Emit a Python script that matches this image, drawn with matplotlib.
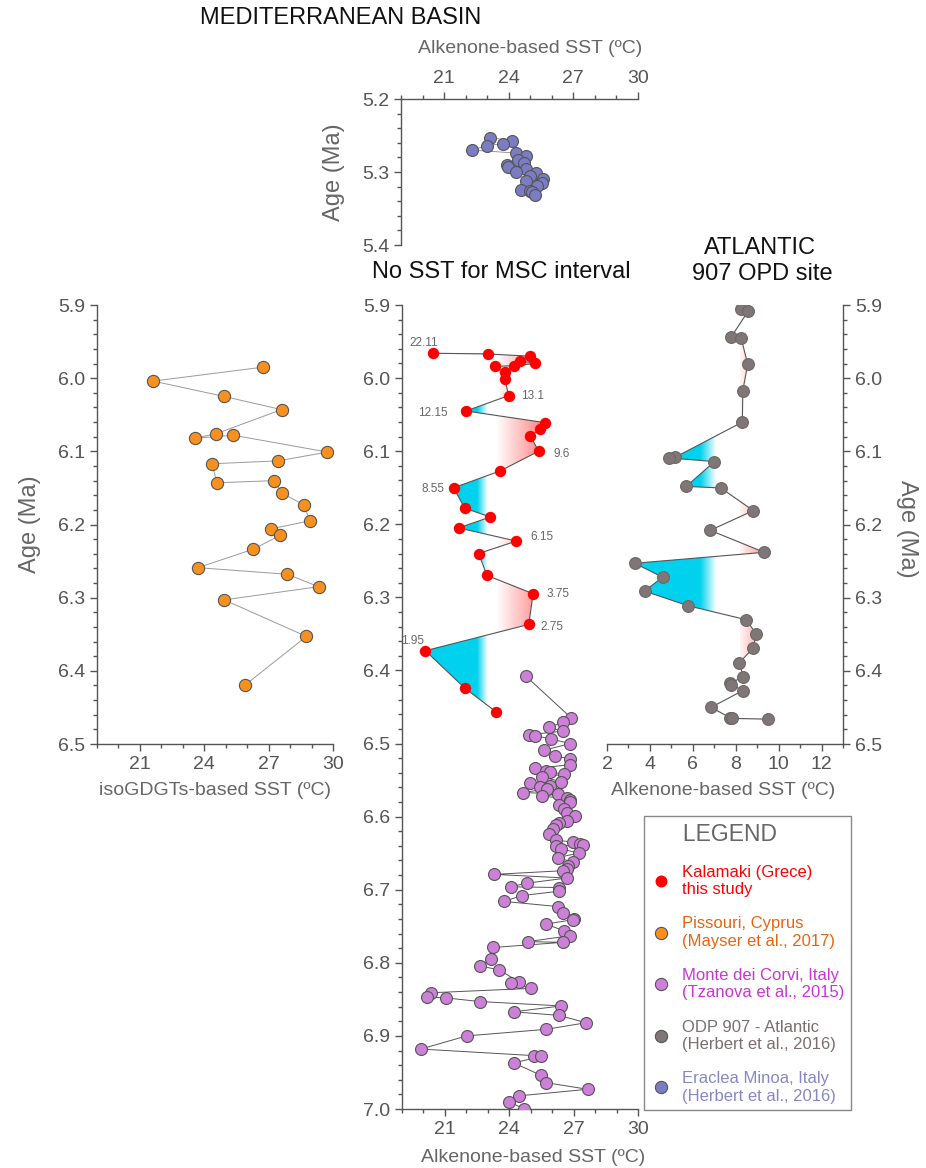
import numpy as np
import matplotlib
matplotlib.use("Agg")
import matplotlib.pyplot as plt
import matplotlib.colors as mcolors
from matplotlib.path import Path
from matplotlib.lines import Line2D
from matplotlib.ticker import MultipleLocator, FormatStrFormatter

plt.rcParams['font.family'] = ['Liberation Sans', 'DejaVu Sans']

# Kalamaki (Greece), this study
kal_age = [5.966, 5.967, 5.970, 5.976, 5.980, 5.983, 5.984, 5.992, 6.001, 6.024,
           6.045, 6.061, 6.070, 6.079, 6.100, 6.127, 6.150, 6.178, 6.190, 6.205,
           6.223, 6.240, 6.270, 6.295, 6.337, 6.373, 6.424, 6.457]
kal_sst = [20.43, 23.01, 24.95, 24.49, 25.22, 24.21, 23.35, 23.79, 23.79, 23.97,
           21.98, 25.68, 25.45, 24.98, 25.37, 23.58, 21.41, 21.92, 23.12, 21.64,
           24.33, 22.57, 22.96, 25.11, 24.91, 20.09, 21.92, 23.40]
# point index -> printed value
kal_notes = {0: '22.11', 9: '13.1', 10: '12.15', 14: '9.6', 16: '8.55',
             20: '6.15', 23: '3.75', 24: '2.75', 25: '1.95'}

# Pissouri, Cyprus (isoGDGTs)
pis_age = [5.985, 6.004, 6.025, 6.043, 6.076, 6.082, 6.078, 6.101, 6.113, 6.117,
           6.143, 6.140, 6.157, 6.173, 6.195, 6.206, 6.215, 6.234, 6.259, 6.268,
           6.285, 6.303, 6.353, 6.419]
pis_sst = [26.72, 21.62, 24.93, 27.60, 24.54, 23.58, 25.36, 29.74, 27.45, 24.36,
           24.59, 27.26, 27.60, 28.64, 28.92, 27.09, 27.53, 26.26, 23.71, 27.87,
           29.33, 24.93, 28.76, 25.92]

# Monte dei Corvi, Italy
mdc_age = [6.408, 6.465, 6.471, 6.478, 6.483, 6.488, 6.489, 6.494, 6.500, 6.509,
           6.517, 6.521, 6.529, 6.534, 6.537, 6.539, 6.542, 6.546, 6.552, 6.554,
           6.558, 6.559, 6.562, 6.567, 6.569, 6.572, 6.575, 6.577, 6.580, 6.584,
           6.590, 6.595, 6.599, 6.606, 6.609, 6.612, 6.617, 6.624, 6.632, 6.635,
           6.638, 6.639, 6.640, 6.644, 6.650, 6.656, 6.662, 6.668, 6.672, 6.674,
           6.679, 6.684, 6.691, 6.696, 6.697, 6.702, 6.708, 6.716, 6.723, 6.732,
           6.740, 6.741, 6.747, 6.756, 6.763, 6.771, 6.772, 6.779, 6.795, 6.804,
           6.810, 6.826, 6.827, 6.835, 6.841, 6.847, 6.848, 6.853, 6.859, 6.867,
           6.872, 6.882, 6.891, 6.900, 6.918, 6.927, 6.928, 6.937, 6.954, 6.964,
           6.973, 6.982, 6.990, 7.000]
mdc_sst = [24.78, 26.89, 26.50, 25.84, 26.50, 24.90, 25.19, 25.96, 26.85, 25.64,
           26.15, 26.82, 26.82, 25.21, 25.73, 25.92, 26.57, 25.52, 26.42, 24.97,
           25.91, 25.41, 25.75, 24.66, 26.25, 25.52, 26.69, 26.84, 26.81, 26.30,
           26.53, 26.69, 27.07, 26.69, 26.34, 26.19, 26.06, 25.83, 26.19, 26.97,
           27.28, 27.43, 26.19, 26.41, 27.23, 26.25, 26.95, 26.73, 26.69, 26.50,
           23.29, 26.69, 24.82, 24.07, 26.30, 26.34, 24.58, 23.76, 26.25, 26.50,
           27.03, 26.97, 25.72, 26.53, 26.81, 24.86, 26.50, 23.26, 23.13, 22.64,
           23.54, 24.46, 24.07, 25.00, 20.33, 20.17, 21.05, 22.64, 26.42, 24.22,
           26.34, 27.57, 25.72, 22.01, 19.88, 25.17, 25.49, 24.21, 25.49, 25.72,
           27.65, 24.46, 23.99, 24.69]

# ODP 907 - Atlantic
odp_age = [5.906, 5.908, 5.944, 5.945, 5.981, 6.017, 6.060, 6.108, 6.109, 6.114,
           6.148, 6.150, 6.181, 6.208, 6.238, 6.253, 6.272, 6.291, 6.311, 6.330,
           6.349, 6.369, 6.389, 6.408, 6.417, 6.419, 6.427, 6.450, 6.464, 6.465,
           6.466]
odp_sst = [8.25, 8.59, 7.78, 8.25, 8.56, 8.33, 8.31, 5.18, 4.87, 7.01,
           5.69, 7.30, 8.82, 6.81, 9.33, 3.29, 4.59, 3.75, 5.77, 8.47,
           8.95, 8.82, 8.16, 8.36, 7.74, 7.80, 8.33, 6.85, 7.74, 7.81,
           9.49]

# Eraclea Minoa, Italy
era_age = [5.253, 5.257, 5.261, 5.264, 5.270, 5.274, 5.278, 5.283, 5.287, 5.290,
           5.293, 5.296, 5.300, 5.302, 5.305, 5.309, 5.313, 5.315, 5.319, 5.324,
           5.326, 5.328, 5.331]
era_sst = [23.13, 24.15, 23.73, 22.98, 22.28, 24.32, 24.79, 24.43, 24.71, 23.93,
           23.96, 24.82, 24.35, 25.28, 24.97, 25.60, 24.82, 25.56, 25.31, 24.58,
           24.97, 25.10, 25.21]

legend_labels = ['Kalamaki (Grece)\nthis study',
                 'Pissouri, Cyprus\n(Mayser et al., 2017)',
                 'Monte dei Corvi, Italy\n(Tzanova et al., 2015)',
                 'ODP 907 - Atlantic\n(Herbert et al., 2016)',
                 'Eraclea Minoa, Italy\n(Herbert et al., 2016)']

GREY = '#555555'
LABEL = '#666666'
RED, ORANGE, ORCHID, TAUPE, LAVENDER = '#FF0000', '#F7901E', '#CC80D8', '#7F7676', '#7C7CC2'
CYAN, PINK = '#00D2EE', '#FF6B6B'

fig = plt.figure(figsize=(9.26, 11.68), dpi=100)
W, H = 926, 1168


def add_panel(x0, y0, x1, y1):
    return fig.add_axes([x0 / W, 1 - y1 / H, (x1 - x0) / W, (y1 - y0) / H])


def style(ax, xlim, ylim, xmaj, xside='bottom', yside='left'):
    ax.set_facecolor('none')
    ax.set_xlim(*xlim)
    ax.set_ylim(*ylim)
    for name, sp in ax.spines.items():
        sp.set_visible(name in (xside, yside))
        sp.set_color(GREY)
        sp.set_linewidth(1.0)
    ax.xaxis.set_ticks_position(xside)
    ax.yaxis.set_ticks_position(yside)
    ax.xaxis.set_major_locator(MultipleLocator(xmaj))
    ax.xaxis.set_minor_locator(MultipleLocator(1))
    ax.yaxis.set_major_locator(MultipleLocator(0.1))
    ax.yaxis.set_minor_locator(MultipleLocator(0.02))
    ax.yaxis.set_major_formatter(FormatStrFormatter('%.1f'))
    ax.tick_params(which='major', length=5, width=1, color=GREY,
                   labelsize=14, labelcolor=GREY, direction='out')
    ax.tick_params(which='minor', length=3, width=1, color=GREY, direction='out')


def gradient_fill(ax, age, sst, thr, colour, x_solid, x_clear, alpha_max=1.0):
    age = np.asarray(age)
    sst = np.asarray(sst)
    where = sst < thr if x_solid < x_clear else sst > thr
    poly = ax.fill_betweenx(age, sst, thr, where=where, interpolate=True, linewidth=0)
    paths = poly.get_paths()
    poly.remove()
    if not paths:
        return
    x0, x1 = ax.get_xlim()
    y0, y1 = ax.get_ylim()
    xs = np.linspace(x0, x1, 800)
    rgba = np.zeros((2, xs.size, 4))
    rgba[..., :3] = mcolors.to_rgb(colour)
    rgba[..., 3] = alpha_max * np.clip((xs - x_clear) / (x_solid - x_clear), 0, 1)
    im = ax.imshow(rgba, extent=(x0, x1, y0, y1), aspect='auto',
                   interpolation='bilinear', zorder=1)
    im.set_clip_path(Path.make_compound_path(*paths), ax.transData)
    ax.set_xlim(x0, x1)
    ax.set_ylim(y0, y1)


def series(ax, sst, age, face, edge, ms, line, lw):
    ax.plot(sst, age, '-', color=line, lw=lw, zorder=2)
    ax.plot(sst, age, 'o', ls='none', mfc=face, mec=edge, mew=0.8 if edge != 'none' else 0,
            ms=ms, zorder=3)


# ---- top: Eraclea Minoa
ax_top = add_panel(401, 99, 638, 245)
style(ax_top, (19, 30), (5.4, 5.2), 3, xside='top', yside='left')
series(ax_top, era_sst, era_age, LAVENDER, GREY, 8.6, '#888888', 0.6)
ax_top.set_xlabel('Alkenone-based SST (ºC)', fontsize=14, color=LABEL)
ax_top.xaxis.set_label_position('top')
ax_top.xaxis.set_label_coords(0.544, 1.349)
ax_top.set_ylabel('Age (Ma)', fontsize=17, color=LABEL)
ax_top.yaxis.set_label_coords(-0.283, 0.5)

# ---- left: Pissouri
ax_left = add_panel(97, 305, 333, 744)
style(ax_left, (19, 30), (6.5, 5.9), 3)
series(ax_left, pis_sst, pis_age, ORANGE, GREY, 8.8, '#9a9a9a', 0.7)
ax_left.set_xlabel('isoGDGTs-based SST (ºC)', fontsize=14, color=LABEL)
ax_left.xaxis.set_label_coords(0.5, -0.107)
ax_left.set_ylabel('Age (Ma)', fontsize=17, color=LABEL)
ax_left.yaxis.set_label_coords(-0.284, 0.5)

# ---- centre: Kalamaki + Monte dei Corvi
ax_mid = add_panel(402, 305, 638, 1109)
style(ax_mid, (19, 30), (7.0, 5.9), 3)
gradient_fill(ax_mid, kal_age, kal_sst, 23.0, CYAN, 22.5, 23.0)
gradient_fill(ax_mid, kal_age, kal_sst, 23.0, PINK, 25.6, 23.4, alpha_max=0.85)
series(ax_mid, mdc_sst, mdc_age, ORCHID, GREY, 8.6, GREY, 0.7)
series(ax_mid, kal_sst, kal_age, RED, 'none', 8.2, GREY, 0.8)
note_offsets = {0: (3.6, 7.2, 'right'), 9: (8.6, 0, 'left'), 10: (-13, -1.4, 'right'),
                14: (10.8, -2.2, 'left'), 16: (-6.5, -0.7, 'right'), 20: (10, 3, 'left'),
                23: (10, 0, 'left'), 24: (8.6, -2.2, 'left'), 25: (-0.7, 7.2, 'right')}
for i, txt in kal_notes.items():
    dx, dy, ha = note_offsets[i]
    ax_mid.annotate(txt, (kal_sst[i], kal_age[i]), xytext=(dx, dy),
                    textcoords='offset points', ha=ha, va='center',
                    fontsize=8.5, color=LABEL, zorder=4)
ax_mid.set_xlabel('Alkenone-based SST (ºC)', fontsize=14, color=LABEL)
ax_mid.xaxis.set_label_coords(0.555, -0.06)

# ---- right: ODP 907
ax_right = add_panel(607, 305, 843, 744)
style(ax_right, (2, 13), (6.5, 5.9), 2, xside='bottom', yside='right')
gradient_fill(ax_right, odp_age, odp_sst, 7.1, CYAN, 6.35, 7.1)
gradient_fill(ax_right, odp_age, odp_sst, 8.2, PINK, 9.4, 8.1, alpha_max=0.75)
series(ax_right, odp_sst, odp_age, TAUPE, '#6e6666', 8.5, GREY, 0.8)
ax_right.set_xlabel('Alkenone-based SST (ºC)', fontsize=14, color=LABEL)
ax_right.xaxis.set_label_coords(0.49, -0.107)
ax_right.yaxis.set_label_position('right')
ax_right.set_ylabel('Age (Ma)', fontsize=17, color=LABEL, rotation=270)
ax_right.yaxis.set_label_coords(1.271, 0.49)

for ax in (ax_top, ax_left, ax_mid, ax_right):
    ax.xaxis.label.set_va('center')
    ax.xaxis.label.set_ha('center')
    ax.yaxis.label.set_va('center')
    ax.yaxis.label.set_ha('center')

# ---- titles
fig.text(200 / W, 1 - 18 / H, 'MEDITERRANEAN BASIN', fontsize=17, ha='left', va='center', color='#111111')
fig.text(501 / W, 1 - 272 / H, 'No SST for MSC interval', fontsize=17, ha='center', va='center', color='#111111')
fig.text(760 / W, 1 - 248 / H, 'ATLANTIC', fontsize=17, ha='center', va='center', color='#111111')
fig.text(762 / W, 1 - 274 / H, '907 OPD site', fontsize=17, ha='center', va='center', color='#111111')

# ---- legend
handles = [Line2D([], [], marker='o', ls='none', mfc=RED, mec='none', ms=8.6),
           Line2D([], [], marker='o', ls='none', mfc=ORANGE, mec=GREY, mew=0.8, ms=8.8),
           Line2D([], [], marker='o', ls='none', mfc=ORCHID, mec=GREY, mew=0.8, ms=8.8),
           Line2D([], [], marker='o', ls='none', mfc=TAUPE, mec=GREY, mew=0.8, ms=8.8),
           Line2D([], [], marker='o', ls='none', mfc=LAVENDER, mec=GREY, mew=0.8, ms=8.8)]
leg = ax_mid.legend(handles, legend_labels, loc='upper left',
                    bbox_to_anchor=(644 / W, 1 - 816 / H), bbox_transform=fig.transFigure,
                    fontsize=12, labelcolor=[RED, '#E5650F', '#CC33D6', '#7A6E6E', '#8787C8'],
                    title='     LEGEND', title_fontsize=16.5, alignment='left',
                    frameon=True, fancybox=False, edgecolor='#888888', framealpha=1,
                    borderpad=0.4, handlelength=1.2, handletextpad=0.7, labelspacing=1.15,
                    borderaxespad=0)
leg.get_title().set_color(LABEL)
leg.get_frame().set_linewidth(1.0)

fig.savefig('out.png', dpi=100)
